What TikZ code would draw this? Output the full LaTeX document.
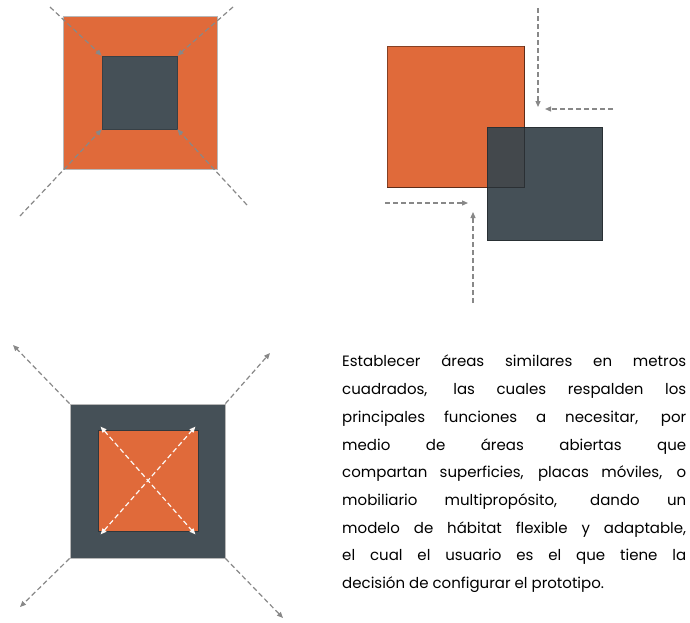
\documentclass[tikz,border=0pt]{standalone}
\usepackage{fontspec}
\setmainfont{Poppins}
\usepackage{tikz}
\usetikzlibrary{positioning,arrows.meta}

\definecolor{naranja}{RGB}{224,106,58}
\definecolor{pizarra}{RGB}{69,80,87}
\definecolor{pizarrat}{RGB}{59,71,78}
\definecolor{guia}{RGB}{136,136,136}

\begin{document}
\begin{tikzpicture}[x=1pt,y=-1pt,
    >={Triangle[length=6pt,width=5pt]},
    sqo/.style={%
      rectangle, draw=naranja!80!black, fill=naranja, line width=0.8pt,
      inner sep=0pt
    },
    sqd/.style={%
      rectangle, draw=pizarra!80!black, fill=pizarra, line width=0.8pt,
      inner sep=0pt
    },
    gline/.style={%
      draw=guia, line width=1.2pt, dash pattern=on 5pt off 3pt
    },
    wline/.style={%
      draw=white!95!naranja, line width=1.2pt, dash pattern=on 5pt off 3pt
    }
]
  \useasboundingbox (0,0) rectangle (690,622);

  % contraer
  \node[sqo, draw=guia!60, minimum width=154, minimum height=153] (o1) at (140,92.5) {};
  \node[sqd, minimum width=75, minimum height=73] (d1) at (139.5,92.5) {};
  \coordinate (c1) at (50,7);
  \coordinate (c2) at (233,7);
  \coordinate (c3) at (20,216);
  \coordinate (c4) at (247,205);
  \draw[gline,->] (c1) -- (d1.north west);
  \draw[gline,->] (c2) -- (d1.north east);
  \draw[gline,->] (c3) -- (d1.south west);
  \draw[gline,->] (c4) -- (d1.south east);

  % superponer
  \node[sqo, draw=naranja!60!black, minimum width=137, minimum height=141] (o2) at (455.5,116.5) {};
  \node[sqd, fill=pizarrat, fill opacity=0.95, draw=pizarra!60!black, minimum width=115, minimum height=113] (d2) at (544.5,183.5) {};
  \draw[black, opacity=0.3, line width=0.8pt] (o2.north east) -- (o2.south east) -- (o2.south west);
  \coordinate (v1) at (538,8);
  \coordinate (v2) at (538,107);
  \coordinate (h1) at (613,109);
  \coordinate (h2) at (545,109);
  \coordinate (h3) at (385,203);
  \coordinate (h4) at (468,203);
  \coordinate (v3) at (473,303);
  \coordinate (v4) at (473,212);
  \draw[gline,->] (v1) -- (v2);
  \draw[gline,->] (h1) -- (h2);
  \draw[gline,->] (h3) -- (h4);
  \draw[gline,->] (v3) -- (v4);

  % expandir
  \node[sqd, draw=guia!60, minimum width=155, minimum height=154] (d3) at (147.5,481) {};
  \node[sqo, draw=pizarra!70!black, minimum width=100, minimum height=101] (o3) at (148,480.5) {};
  \coordinate (e1) at (13,345);
  \coordinate (e2) at (270,353);
  \coordinate (e3) at (20,607);
  \coordinate (e4) at (283,618);
  \draw[gline,->] (d3.north west) -- (e1);
  \draw[gline,->] (d3.north east) -- (e2);
  \draw[gline,->] (d3.south west) -- (e3);
  \draw[gline,->] (d3.south east) -- (e4);
  \draw[wline,<->] ([shift={(3,-3)}]o3.north west) -- ([shift={(-3,3)}]o3.south east);
  \draw[wline,<->] ([shift={(3,3)}]o3.south west) -- ([shift={(-3,-3)}]o3.north east);

  \node[anchor=north west, inner sep=0pt, text width=344, align=justify,
        font=\fontsize{15pt}{27.7pt}\selectfont] (txt) at (342,355)
    {Establecer áreas similares en metros\linebreak
     cuadrados, las cuales respalden los\linebreak
     principales funciones a necesitar, por\linebreak
     medio de áreas abiertas que\linebreak
     compartan superficies, placas móviles, o\linebreak
     mobiliario multipropósito, dando un\linebreak
     modelo de hábitat flexible y adaptable,\linebreak
     el cual el usuario es el que tiene la\linebreak
     decisión de configurar el prototipo.};
\end{tikzpicture}
\end{document}
